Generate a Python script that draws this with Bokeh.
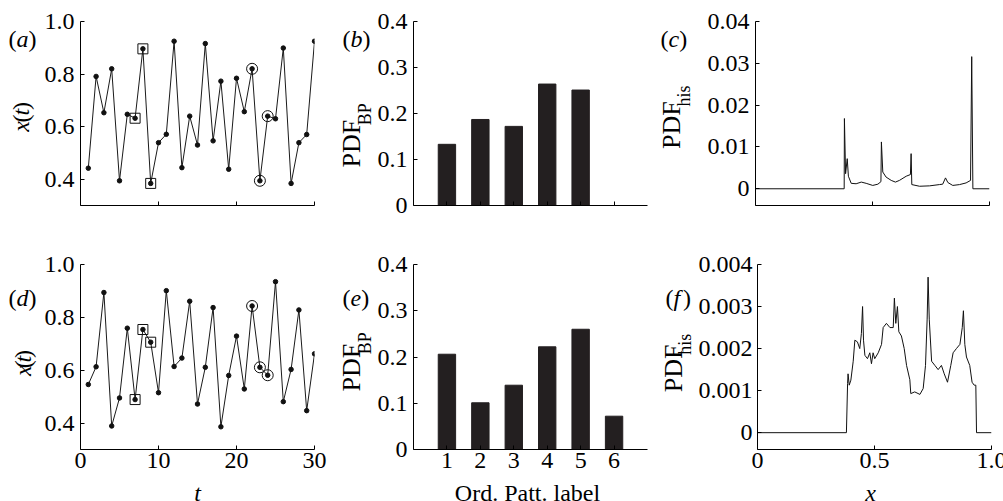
import math
from bokeh.plotting import figure
from bokeh.layouts import column, row
from bokeh.models import Range1d, FixedTicker, Label, CustomJSTickFormatter
from bokeh.embed import file_html
from bokeh.resources import INLINE

# ---------------- data ----------------
t_steps = list(range(1, 31))
x_top = [0.442, 0.791, 0.653, 0.820, 0.394, 0.647, 0.632, 0.896, 0.384, 0.539,
         0.571, 0.925, 0.444, 0.640, 0.530, 0.916, 0.546, 0.773, 0.438, 0.784,
         0.657, 0.820, 0.394, 0.640, 0.630, 0.899, 0.384, 0.539, 0.570, 0.925]
x_bot = [0.546, 0.613, 0.894, 0.389, 0.495, 0.759, 0.489, 0.754, 0.706, 0.515,
         0.901, 0.614, 0.646, 0.861, 0.472, 0.611, 0.837, 0.386, 0.580, 0.729,
         0.529, 0.843, 0.611, 0.581, 0.935, 0.481, 0.603, 0.828, 0.447, 0.662]
square_t = [7, 8, 9]
circle_t = [22, 23, 24]

pattern_labels = [1, 2, 3, 4, 5, 6]
pdf_bp_top = [0.133, 0.187, 0.172, 0.264, 0.251, 0.0]
pdf_bp_bot = [0.206, 0.101, 0.139, 0.222, 0.260, 0.072]

his_top_x = [0, 0.379, 0.380, 0.385, 0.392, 0.397, 0.409, 0.430, 0.452, 0.473,
             0.501, 0.523, 0.536, 0.538, 0.544, 0.558, 0.580, 0.598, 0.615, 0.644,
             0.662, 0.665, 0.668, 0.701, 0.744, 0.786, 0.800, 0.812, 0.822, 0.843,
             0.872, 0.900, 0.919, 0.924, 0.929, 1.0]
his_top_y = [0, 0, 0.0168, 0.0036, 0.0072, 0.0030, 0.0013, 0.0012, 0.0016, 0.0013,
             0.0008, 0.0011, 0.0017, 0.0112, 0.0040, 0.0028, 0.0020, 0.0016, 0.0020, 0.0030,
             0.0034, 0.0084, 0.0010, 0.0006, 0.0007, 0.0010, 0.0011, 0.0026, 0.0015, 0.0008,
             0.0010, 0.0014, 0.0020, 0.0316, 0, 0]

his_bot_x = [0, 0.380, 0.385, 0.387, 0.392, 0.399, 0.409, 0.416, 0.427, 0.437,
             0.444, 0.449, 0.453, 0.459, 0.470, 0.480, 0.487, 0.494, 0.501, 0.516,
             0.530, 0.537, 0.551, 0.566, 0.580, 0.585, 0.591, 0.598, 0.604, 0.615,
             0.627, 0.637, 0.651, 0.655, 0.672, 0.694, 0.708, 0.718, 0.725, 0.729,
             0.734, 0.744, 0.758, 0.772, 0.786, 0.798, 0.812, 0.826, 0.836, 0.850,
             0.865, 0.875, 0.880, 0.886, 0.893, 0.907, 0.917, 0.926, 0.933, 0.936, 1.0]
his_bot_y = [0, 0, 0.00117, 0.00140, 0.00113, 0.00125, 0.00170, 0.00220, 0.00216, 0.00200,
             0.00236, 0.00300, 0.00220, 0.00184, 0.00176, 0.00190, 0.00164, 0.00190, 0.00176, 0.00190,
             0.00210, 0.00250, 0.00260, 0.00250, 0.00250, 0.00320, 0.00260, 0.00300, 0.00240, 0.00230,
             0.00200, 0.00160, 0.00126, 0.00093, 0.00097, 0.00091, 0.00105, 0.00160, 0.00270, 0.00370,
             0.00270, 0.00170, 0.00160, 0.00150, 0.00160, 0.00140, 0.00120, 0.00160, 0.00190, 0.00200,
             0.00210, 0.00250, 0.00290, 0.00210, 0.00180, 0.00160, 0.00120, 0.00113, 0.00113, 0, 0]

# ---------------- styling helpers ----------------
FONT = "Liberation Serif"
FS = 24
W_REG = {"(": 0.333, ")": 0.333, "P": 0.556, "D": 0.722, "F": 0.556, "B": 0.667,
         "h": 0.5, "i": 0.278, "s": 0.389}
W_IT = {"a": 0.5, "b": 0.5, "c": 0.444, "d": 0.5, "e": 0.444, "f": 0.40, "x": 0.444, "t": 0.278}


def tw(text, italic, size):
    tab = W_IT if italic else W_REG
    return sum(tab.get(ch, 0.5) for ch in text) * size


def no_title(p):
    p.title.visible = False
    p.title.text_font_size = "0px"
    p.title.standoff = 0


def make_fig(xr, yr, L, R, T, B, fw, fh):
    p = figure(frame_width=fw, frame_height=fh, x_range=Range1d(*xr), y_range=Range1d(*yr),
               min_border_left=L, min_border_right=R, min_border_top=T, min_border_bottom=B,
               toolbar_location=None, output_backend="svg")
    no_title(p)
    p.outline_line_color = None
    p.xgrid.visible = False
    p.ygrid.visible = False
    p.background_fill_color = "white"
    p.border_fill_color = "white"
    for ax in (p.xaxis[0], p.yaxis[0]):
        ax.axis_line_color = "black"
        ax.axis_line_width = 1
        ax.major_tick_in = 4
        ax.major_tick_out = 0
        ax.minor_tick_line_color = None
        ax.major_tick_line_color = "black"
        ax.major_label_text_font = FONT
        ax.major_label_text_font_size = f"{FS}px"
        ax.major_label_text_color = "black"
    p.yaxis[0].major_label_standoff = 6
    p.xaxis[0].major_label_standoff = 3
    return p


def fmt(decimals):
    return CustomJSTickFormatter(code=f"return tick == 0 ? '0' : tick.toFixed({decimals});")


def hide_x_labels(p):
    p.xaxis[0].major_label_text_font_size = "0px"
    p.xaxis[0].major_label_standoff = 0


class TextFig:
    """Blank figure used only to hold text; coordinates given in page pixels."""

    def __init__(self, page_left, page_top, w, h):
        self.left, self.top = page_left, page_top
        p = figure(width=w, height=h, x_range=Range1d(0, w), y_range=Range1d(h, 0),
                   min_border=0, toolbar_location=None, x_axis_location=None,
                   y_axis_location=None, output_backend="svg")
        no_title(p)
        p.outline_line_color = None
        p.grid.visible = False
        p.background_fill_color = "white"
        p.border_fill_color = "white"
        self.p = p

    def text(self, px, py, text, size=FS, italic=False, angle=0.0, align="left", baseline="middle"):
        self.p.add_layout(Label(x=px - self.left, y=py - self.top, text=text, text_font=FONT,
                                text_font_size=f"{size}px",
                                text_font_style="italic" if italic else "normal",
                                text_baseline=baseline, text_align=align,
                                angle=angle, text_color="black"))

    def seq(self, px, py, pieces, rotated=False):
        # horizontal: px = left edge, py = vertical middle
        # rotated (reads upward): px = horizontal middle of the run, py = bottom start
        for text, italic, size, shift in pieces:
            w = tw(text, italic, size)
            if rotated:
                self.text(px + shift, py - w / 2, text, size, italic, angle=math.pi / 2, align="center")
            else:
                self.text(px, py + shift, text, size, italic)
            if rotated:
                py -= w
            else:
                px += w

    def tag(self, px, py, letter):
        self.seq(px, py, [("(", False, FS, 0), (letter, True, FS, 0), (")", False, FS, 0)])

    def xt_title(self, px, py):
        self.seq(px, py, [("x", True, FS, 0), ("(", False, FS, 0), ("t", True, FS, 0),
                          (")", False, FS, 0)], rotated=True)

    def pdf_title(self, px, py, sub, sub_shift):
        self.seq(px, py, [("PDF", False, 26, 0), (sub, False, 18, sub_shift)], rotated=True)


FW = 234
FH_TOP, FH_BOT = 184, 185
XR_T = (0, 30)
YR_X = (0.3, 1.0)
XR_B = (0, 7)
YR_B = (0, 0.4)
XR_H = (0, 1)
YR_C = (-0.004, 0.04)
YR_F = (-0.0004, 0.004)

TOP_T, TOP_B = 21, 12
BOT_T, BOT_B = 47, 32
PAGE_W, PAGE_H = 1003, 501


def series_panel(vals, top):
    p = make_fig(XR_T, YR_X, 40, 14, TOP_T if top else BOT_T, TOP_B if top else BOT_B,
                 FW, FH_TOP if top else FH_BOT)
    p.xaxis[0].ticker = FixedTicker(ticks=[0, 10, 20, 30])
    p.yaxis[0].ticker = FixedTicker(ticks=[0.4, 0.6, 0.8, 1.0])
    p.yaxis[0].formatter = fmt(1)
    p.line(t_steps, vals, line_color="#1a1a1a", line_width=1)
    p.scatter(t_steps, vals, size=4.5, marker="circle", fill_color="#111111", line_color="#111111")
    sq_v = [vals[i - 1] for i in square_t]
    ci_v = [vals[i - 1] for i in circle_t]
    p.scatter(square_t, sq_v, marker="square", size=10, fill_color=None, line_color="#111111", line_width=1)
    p.scatter(circle_t, ci_v, marker="circle", size=11, fill_color=None, line_color="#111111", line_width=1)
    if top:
        hide_x_labels(p)
    return p


def bar_panel(vals, top):
    p = make_fig(XR_B, YR_B, 37, 4, TOP_T if top else BOT_T, TOP_B if top else BOT_B,
                 FW, FH_TOP if top else FH_BOT)
    p.xaxis[0].ticker = FixedTicker(ticks=pattern_labels)
    p.yaxis[0].ticker = FixedTicker(ticks=[0, 0.1, 0.2, 0.3, 0.4])
    p.yaxis[0].formatter = fmt(1)
    p.vbar(x=pattern_labels, top=vals, bottom=0, width=0.52, fill_color="#231f20", line_color="#231f20")
    if top:
        hide_x_labels(p)
    return p


def his_panel(xs, ys, top):
    if top:
        p = make_fig(XR_H, YR_C, 52, 16, TOP_T, TOP_B, FW, FH_TOP)
        p.yaxis[0].ticker = FixedTicker(ticks=[0, 0.01, 0.02, 0.03, 0.04])
        p.yaxis[0].formatter = fmt(2)
    else:
        p = make_fig(XR_H, YR_F, 60, 16, BOT_T, BOT_B, FW, FH_BOT)
        p.yaxis[0].ticker = FixedTicker(ticks=[0, 0.001, 0.002, 0.003, 0.004])
        p.yaxis[0].formatter = fmt(3)
        p.yaxis[0].major_label_standoff = 5
    p.xaxis[0].ticker = FixedTicker(ticks=[0, 0.5, 1.0])
    p.xaxis[0].formatter = fmt(1)
    p.line(xs, ys, line_color="#111111", line_width=1)
    if top:
        hide_x_labels(p)
    return p


pa = series_panel(x_top, True)
pb = bar_panel(pdf_bp_top, True)
pc = his_panel(his_top_x, his_top_y, True)
pd = series_panel(x_bot, False)
pe = bar_panel(pdf_bp_bot, False)
pf = his_panel(his_bot_x, his_bot_y, False)

H_TOP = TOP_T + FH_TOP + TOP_B
H_BOT = BOT_T + FH_BOT + BOT_B
ROW2_Y = H_TOP
ROW3_Y = H_TOP + H_BOT

# text strips left of each panel (page coordinates)
ta = TextFig(0, 0, 40, H_TOP)
tb = TextFig(328, 0, 46, H_TOP)
tc = TextFig(649, 0, 52, H_TOP)
td = TextFig(0, ROW2_Y, 40, H_BOT)
te = TextFig(328, ROW2_Y, 46, H_BOT)
tf = TextFig(649, ROW2_Y, 44, H_BOT)
tt = TextFig(0, ROW3_Y, PAGE_W, PAGE_H - ROW3_Y)

ta.tag(8, 21, "a")
tb.tag(342, 21, "b")
tc.tag(658, 21, "c")
td.tag(8, 265, "d")
te.tag(342, 265, "e")
tf.tag(663, 265, "f")

ta.xt_title(20, 129)
td.xt_title(22, 374)
tb.pdf_title(351, 168, "BP", 13)
te.pdf_title(351, 388, "BP", 13)
tc.pdf_title(669, 146, "his", 12)
tf.pdf_title(671, 389, "his", 11)

tt.text(197, 492, "t", italic=True, align="center")
tt.text(527, 492, "Ord. Patt. label", align="center")
tt.text(870, 492, "x", italic=True, align="center")

layout = column(row(ta.p, pa, tb.p, pb, tc.p, pc),
                row(td.p, pd, te.p, pe, tf.p, pf),
                tt.p)
open("out.html", "w").write(file_html(layout, INLINE))
